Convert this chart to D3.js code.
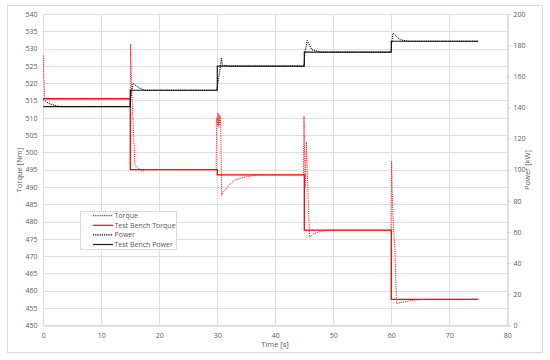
<!DOCTYPE html>
<html>
<head>
<meta charset="utf-8">
<script src="https://cdn.jsdelivr.net/npm/d3@7"></script>
<style>
body { margin: 0; background: #fff; }
text { font-family: "Open Sans", "Liberation Sans", sans-serif; fill: #595959; }
</style>
</head>
<body>
<script>
var w = 550;
var h = 360;

// test bench steps (step after)
var benchTime = [0, 15, 30, 45, 60, 75];
var benchTorque = [515.5, 495, 493.5, 477.5, 457.5, 457.5];
var benchPower = [140.5, 151, 166.5, 175.5, 182.5, 182.5];

// measured torque
var torqueTime = [0, 0.2, 0.5, 15, 15.05, 15.2, 15.8, 17.1, 17.5, 29.8, 29.9, 30.0, 30.1, 30.2, 30.3, 30.4, 30.5, 30.6, 30.75, 31, 32, 33, 35, 37, 44.85, 44.95, 45.15, 45.35, 45.9, 46.5, 47.5, 49, 59.95, 60.05, 60.25, 60.6, 60.9, 62, 64, 66, 75];
var torqueVal = [528, 516, 515.5, 515.5, 531.3, 520, 496.3, 494.4, 495, 495, 510, 508, 511.5, 507.5, 511, 508, 510.5, 507, 487.5, 488.5, 490.5, 492, 493, 493.5, 493.5, 510.5, 490, 503, 475.5, 476.3, 477, 477.5, 477.5, 497.5, 482.5, 472.5, 456.3, 456.7, 457.3, 457.5, 457.5];

// measured power
var powerTime = [0, 1, 2, 3, 14.95, 15.2, 15.5, 16.5, 17.5, 29.9, 30.5, 30.7, 30.9, 32, 44.95, 45.1, 45.5, 46.3, 48, 59.95, 60.1, 60.3, 61.5, 63, 75];
var powerVal = [145, 142.5, 141.2, 140.5, 140.5, 150, 155.5, 152.5, 151, 151, 165, 172, 167, 166.5, 166.5, 175.5, 183, 177, 175.5, 175.5, 182.5, 187.8, 183.5, 182.5, 182.5];

var xTicks = [0, 10, 20, 30, 40, 50, 60, 70, 80];
var torqueTicks = d3.range(450, 541, 5);
var powerTicks = [0, 20, 40, 60, 80, 100, 120, 140, 160, 180, 200];

var svg = d3.select("body").append("svg")
    .attr("width", w)
    .attr("height", h);

// chart frame
svg.append("rect")
    .attr("x", 7.5).attr("y", 5.5)
    .attr("width", 535).attr("height", 347)
    .attr("fill", "#fff").attr("stroke", "#d9d9d9");

var pLeft = 43.3, pRight = 507.3, pTop = 14, pBottom = 325.3;

var x = d3.scaleLinear().domain([0, 80]).range([pLeft, pRight]);
var yT = d3.scaleLinear().domain([450, 540]).range([pBottom, pTop]);
var yP = d3.scaleLinear().domain([0, 200]).range([pBottom, pTop]);

// grid
svg.append("g").selectAll("line").data(torqueTicks).join("line")
    .attr("x1", pLeft).attr("x2", pRight)
    .attr("y1", d => Math.round(yT(d)) + 0.5).attr("y2", d => Math.round(yT(d)) + 0.5)
    .attr("stroke", "#dedede").attr("stroke-width", 1);
svg.append("g").selectAll("line").data(xTicks).join("line")
    .attr("y1", pTop).attr("y2", pBottom)
    .attr("x1", d => Math.round(x(d)) + 0.5).attr("x2", d => Math.round(x(d)) + 0.5)
    .attr("stroke", "#dedede").attr("stroke-width", 1);

// axes
var ax = svg.append("g").attr("transform", "translate(0," + (Math.round(pBottom) + 0.5) + ")")
    .call(d3.axisBottom(x).tickValues(xTicks).tickSize(0).tickPadding(8));
var al = svg.append("g").attr("transform", "translate(" + (Math.round(pLeft) + 0.5) + ",0)")
    .call(d3.axisLeft(yT).tickValues(torqueTicks).tickSize(0).tickPadding(6));
var ar = svg.append("g").attr("transform", "translate(" + (Math.round(pRight) + 0.5) + ",0)")
    .call(d3.axisRight(yP).tickValues(powerTicks).tickSize(3).tickPadding(3));
[ax, al, ar].forEach(function(g) {
    g.attr("color", "#595959").attr("font-family", null);
    g.selectAll("text").attr("font-size", 7).attr("fill", "#595959");
    g.select(".domain").attr("stroke", "#d0d0d0");
    g.selectAll(".tick line").attr("stroke", "#d0d0d0");
});
al.select(".domain").remove();

// lines
var lineT = d3.line().x(d => x(d[0])).y(d => yT(d[1]));
var lineP = d3.line().x(d => x(d[0])).y(d => yP(d[1]));
var stepT = d3.line().curve(d3.curveStepAfter).x(d => x(d[0])).y(d => yT(d[1]));
var stepP = d3.line().curve(d3.curveStepAfter).x(d => x(d[0])).y(d => yP(d[1]));

var benchT = d3.zip(benchTime, benchTorque);
var benchP = d3.zip(benchTime, benchPower);
var measT = d3.zip(torqueTime, torqueVal);
var measP = d3.zip(powerTime, powerVal);

svg.append("path").attr("d", stepT(benchT))
    .attr("fill", "none").attr("stroke", "#ff0000").attr("stroke-width", 1.3);
svg.append("path").attr("d", lineT(measT))
    .attr("fill", "none").attr("stroke", "#ff1a1a").attr("stroke-width", 1)
    .attr("stroke-dasharray", "1.2,1");
svg.append("path").attr("d", stepP(benchP))
    .attr("fill", "none").attr("stroke", "#1a1a1a").attr("stroke-width", 1.2);
svg.append("path").attr("d", lineP(measP))
    .attr("fill", "none").attr("stroke", "#000").attr("stroke-width", 1)
    .attr("stroke-dasharray", "1.2,1");

// axis titles
svg.append("text").attr("x", 275).attr("y", 347).attr("text-anchor", "middle")
    .attr("font-size", 7.5).text("Time [s]");
svg.append("text").attr("transform", "translate(22,170) rotate(-90)")
    .attr("text-anchor", "middle").attr("font-size", 7.5).text("Torque [Nm]");
svg.append("text").attr("transform", "translate(530,170) rotate(-90)")
    .attr("text-anchor", "middle").attr("font-size", 7.5).text("Power [kW]");

// legend
var legendNames = ["Torque", "Test Bench Torque", "Power", "Test Bench Power"];
var legendColors = ["#ff1a1a", "#ff0000", "#000", "#1a1a1a"];
var legendDash = ["1.2,1", null, "1.2,1", null];

var lg = svg.append("g");
lg.append("rect").attr("x", 80.5).attr("y", 211.5).attr("width", 96).attr("height", 38)
    .attr("fill", "#fff").attr("stroke", "#d9d9d9");
legendNames.forEach(function(name, i) {
    var yy = 215.7 + i * 9.6;
    lg.append("line").attr("x1", 93).attr("x2", 113).attr("y1", yy).attr("y2", yy)
        .attr("stroke", legendColors[i]).attr("stroke-width", 1.2)
        .attr("stroke-dasharray", legendDash[i]);
    lg.append("text").attr("x", 114.5).attr("y", yy + 2.5).attr("font-size", 7).text(name);
});
</script>
</body>
</html>
